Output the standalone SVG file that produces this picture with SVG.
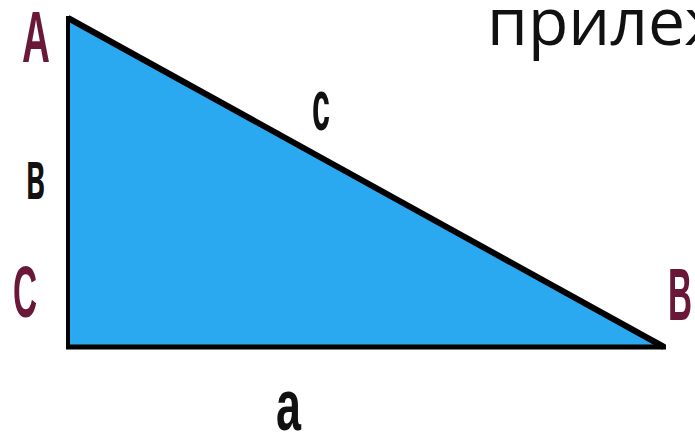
<svg xmlns="http://www.w3.org/2000/svg" width="695" height="437" viewBox="0 0 695 437">
<style>
.lbl{font-family:"Liberation Sans",Arial,sans-serif;font-weight:bold;}
.v{fill:#6a1838;}
.s{fill:#111;}
</style>
<rect width="695" height="437" fill="#fff"/>
<text x="487" y="45" font-family="'Open Sans','Noto Sans',sans-serif" font-size="66" fill="#111">прилеж</text>
<g id="triangle">
<polygon points="68,18 68,347 664,347" fill="#2aa8f0"/>
<line x1="68" y1="16" x2="68" y2="349" stroke="#000" stroke-width="4"/>
<line x1="66" y1="347" x2="666" y2="347" stroke="#000" stroke-width="5"/>
<line x1="68" y1="18" x2="664" y2="347" stroke="#000" stroke-width="6"/>
</g>
<g id="labels">
<text class="lbl v" x="22" y="62" font-size="72" textLength="28" lengthAdjust="spacingAndGlyphs">A</text>
<text class="lbl s" x="26" y="199" font-size="70" textLength="19" lengthAdjust="spacingAndGlyphs">в</text>
<text class="lbl v" x="13" y="317" font-size="72" textLength="24" lengthAdjust="spacingAndGlyphs">C</text>
<text class="lbl v" x="668" y="320" font-size="74" textLength="24" lengthAdjust="spacingAndGlyphs">B</text>
<text class="lbl s" x="312" y="130" font-size="72" textLength="18" lengthAdjust="spacingAndGlyphs">c</text>
<text class="lbl s" x="276" y="430" font-size="72" textLength="25" lengthAdjust="spacingAndGlyphs">a</text>
</g>
</svg>
